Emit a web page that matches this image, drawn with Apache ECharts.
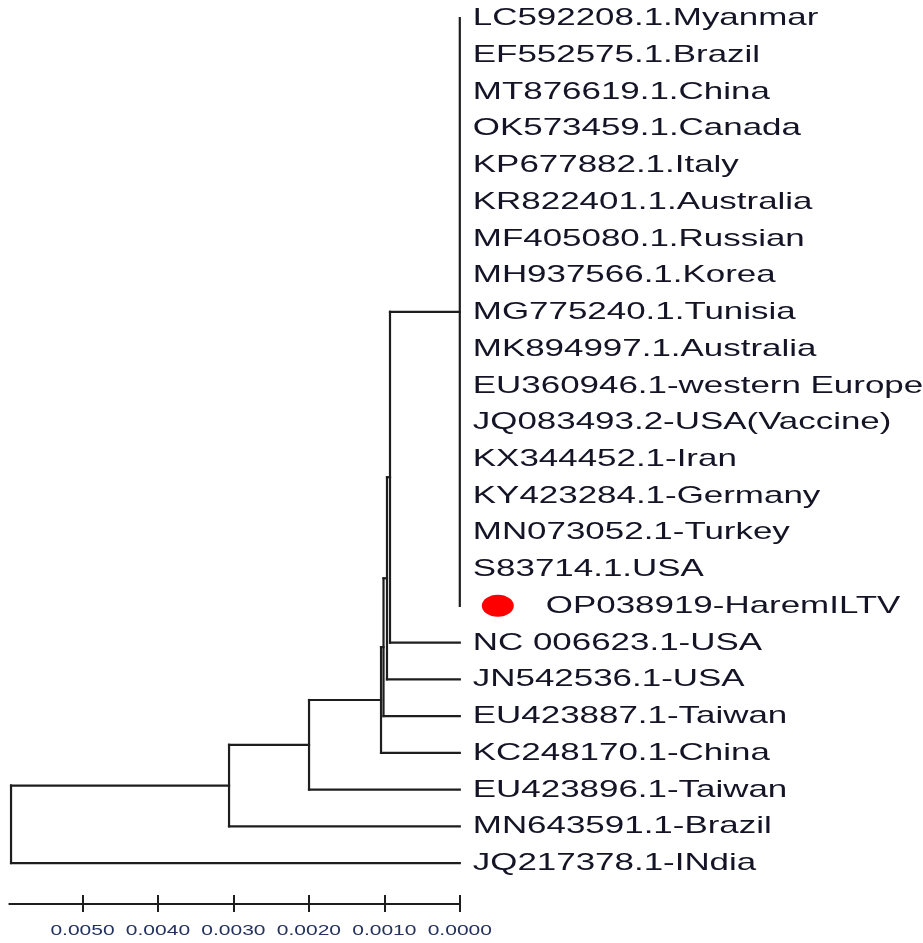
<!DOCTYPE html>
<html><head><meta charset="utf-8">
<script src="https://cdn.jsdelivr.net/npm/echarts@6/dist/echarts.min.js"></script>
<style>html,body{margin:0;padding:0;background:#fff}#c{width:923px;height:943px}</style>
</head><body><div id="c"></div>
<script>
// Leaves (top to bottom)
const leafNames = [
  'LC592208.1.Myanmar','EF552575.1.Brazil','MT876619.1.China','OK573459.1.Canada',
  'KP677882.1.Italy','KR822401.1.Australia','MF405080.1.Russian','MH937566.1.Korea',
  'MG775240.1.Tunisia','MK894997.1.Australia','EU360946.1-western Europe','JQ083493.2-USA(Vaccine)',
  'KX344452.1-Iran','KY423284.1-Germany','MN073052.1-Turkey','S83714.1.USA',
  'OP038919-HaremILTV','NC 006623.1-USA','JN542536.1-USA','EU423887.1-Taiwan',
  'KC248170.1-China','EU423896.1-Taiwan','MN643591.1-Brazil','JQ217378.1-INdia'
];
// Internal nodes: id, height (distance from tips), children (node ids or leaf indices)
const nodeIds = ['root','n0','n1','n2','n3','n4','n5','n6'];
const nodeHeights = [0.005947, 0.003058, 0.001998, 0.001044, 0.001011, 0.000965, 0.000925, 0];
const nodeChildren = [
  ['n0', 23], ['n1', 22], ['n2', 21], ['n3', 20], ['n4', 19], ['n5', 18], ['n6', 17],
  [0,1,2,3,4,5,6,7,8,9,10,11,12,13,14,15,16]
];
const markedLeaf = 'OP038919-HaremILTV';
const scaleTicks = [0, 0.001, 0.002, 0.003, 0.004, 0.005];
const scaleTickLabels = ['0.0000','0.0010','0.0020','0.0030','0.0040','0.0050'];

// ---- build branch segments from tree ----
const Y_MIN = -0.49, Y_MAX = 24.115, X_MAX = 0.00597;
const nodeY = {};
function yOf(c){
  if (typeof c === 'number') return c;
  if (nodeY[c] !== undefined) return nodeY[c];
  const k = nodeIds.indexOf(c);
  const ch = nodeChildren[k];
  const y = (yOf(ch[0]) + yOf(ch[ch.length-1])) / 2;
  nodeY[c] = y; return y;
}
function hOf(c){ return typeof c === 'number' ? 0 : nodeHeights[nodeIds.indexOf(c)]; }
const segments = [];
nodeIds.forEach((id, k) => {
  const h = nodeHeights[k];
  const ch = nodeChildren[k];
  segments.push([h, yOf(ch[0]), h, yOf(ch[ch.length-1])]);
  ch.forEach(c => { if (hOf(c) !== h) segments.push([h, yOf(c), hOf(c), yOf(c)]); });
});

const TEXT_FONT = '24px "Liberation Sans", Arial, sans-serif';
const LINE_COLOR = '#1e1e1e';
const chart = echarts.init(document.getElementById('c'));
chart.setOption({
  animation: false,
  backgroundColor: '#ffffff',
  grid: { left: 9.3, right: 463.2, top: 0, bottom: 39, containLabel: false },
  xAxis: [
    { type: 'value', min: 0, max: X_MAX, inverse: true, position: 'bottom',
      axisLine: { show: true, onZero: false, lineStyle: { color: LINE_COLOR, width: 2 } },
      axisTick: { show: true, inside: true, length: 9, customValues: scaleTicks, lineStyle: { color: LINE_COLOR, width: 2 } },
      axisLabel: { show: false }, splitLine: { show: false } },
    { type: 'value', min: 0, max: X_MAX, inverse: true, position: 'bottom',
      axisLine: { show: false, onZero: false },
      axisTick: { show: true, inside: false, length: 8, customValues: scaleTicks, lineStyle: { color: LINE_COLOR, width: 2 } },
      axisLabel: { show: false }, splitLine: { show: false } }
  ],
  yAxis: { type: 'value', min: Y_MIN, max: Y_MAX, inverse: true, show: false },
  series: [
    { type: 'custom', clip: false, silent: true,
      data: segments,
      encode: { x: [0, 2], y: [1, 3] },
      renderItem(params, api) {
        const p1 = api.coord([api.value(0), api.value(1)]);
        const p2 = api.coord([api.value(2), api.value(3)]);
        return { type: 'line', shape: { x1: p1[0], y1: p1[1], x2: p2[0], y2: p2[1] },
          style: { stroke: LINE_COLOR, lineWidth: 2.2, lineCap: 'square' } };
      } },
    { type: 'custom', clip: false, silent: true,
      data: leafNames.map((n, i) => [0, i]),
      encode: { x: 0, y: 1 },
      renderItem(params, api) {
        const p = api.coord([api.value(0), api.value(1)]);
        const name = leafNames[params.dataIndex];
        const children = [];
        let off = 13;
        if (name === markedLeaf) {
          children.push({ type: 'ellipse', shape: { cx: p[0] + 38, cy: p[1], rx: 16, ry: 11 },
            style: { fill: '#ff0000' } });
          off = 86;
        }
        children.push({ type: 'text', x: p[0] + off, y: p[1] + 0.5, scaleX: 1.455,
          style: { text: name, font: TEXT_FONT, fill: '#141426', align: 'left', verticalAlign: 'middle' } });
        return { type: 'group', children };
      } },
    { type: 'custom', clip: false, silent: true,
      data: scaleTicks.map(v => [v, Y_MAX]),
      encode: { x: 0, y: 1 },
      renderItem(params, api) {
        const p = api.coord([api.value(0), api.value(1)]);
        return { type: 'text', x: p[0], y: p[1] + 27, scaleX: 1.5,
          style: { text: scaleTickLabels[params.dataIndex], font: '14px "Liberation Sans", Arial, sans-serif',
            fill: '#23325e', align: 'center', verticalAlign: 'middle' } };
      } }
  ]
});
</script>
</body></html>
